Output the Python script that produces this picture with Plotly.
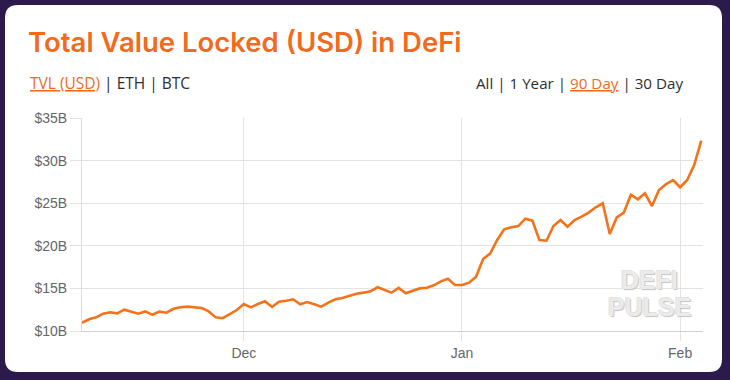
import pandas as pd
import plotly.graph_objects as go

# ---- data (daily TVL, billions USD) ----
start_date = "2020-11-08"
tvl_billion = [
    10.97, 11.37, 11.60, 12.03, 12.20, 12.07, 12.50, 12.27, 12.03, 12.30,
    11.90, 12.27, 12.15, 12.60, 12.78, 12.86, 12.78, 12.70, 12.30, 11.60,
    11.50, 12.00, 12.46, 13.17, 12.78, 13.17, 13.49, 12.82, 13.44, 13.56,
    13.72, 13.13, 13.40, 13.13, 12.86, 13.33, 13.72, 13.87, 14.10, 14.38,
    14.50, 14.66, 15.13, 14.81, 14.50, 15.05, 14.42, 14.73, 15.00, 15.08,
    15.36, 15.83, 16.14, 15.40, 15.40, 15.67, 16.37, 18.45, 19.08, 20.68,
    21.94, 22.17, 22.32, 23.18, 22.95, 20.68, 20.60, 22.32, 23.03, 22.24,
    23.03, 23.42, 23.90, 24.52, 24.99, 21.38, 23.34, 23.90, 26.00, 25.46,
    26.16, 24.67, 26.55, 27.25, 27.72, 26.87, 27.72, 29.48, 32.34,
]
dates = pd.date_range(start_date, periods=len(tvl_billion), freq="D")

y_ticks = [10, 15, 20, 25, 30, 35]
y_tick_labels = ["$10B", "$15B", "$20B", "$25B", "$30B", "$35B"]
x_ticks = ["2020-12-01", "2021-01-01", "2021-02-01"]
x_tick_labels = ["Dec", "Jan", "Feb"]

title_text = "Total Value Locked (USD) in DeFi"

# ---- layout geometry (pixels) ----
W, H = 730, 380
L, R, T, B = 82, 703, 118, 331
PW, PH = R - L, B - T

def px(x):
    return (x - L) / PW

def py(y):
    return (B - y) / PH

ORANGE = "#f26b1d"
LINE = "#f4731a"
GRID = "#e3e3e3"
TEXT_DARK = "#2e2e2e"

fig = go.Figure()
fig.add_trace(go.Scatter(
    x=dates, y=tvl_billion, mode="lines",
    line=dict(color=LINE, width=2.6, shape="linear"),
    hoverinfo="skip", showlegend=False,
))

# white rounded card
cx0, cx1, cy0, cy1 = 5, 722, 5, 372
r = 13
rx, ry = r / PW, r / PH
x0, x1, y0, y1 = px(cx0), px(cx1), py(cy1), py(cy0)
path = (
    f"M {x0+rx},{y0} L {x1-rx},{y0} Q {x1},{y0} {x1},{y0+ry} "
    f"L {x1},{y1-ry} Q {x1},{y1} {x1-rx},{y1} "
    f"L {x0+rx},{y1} Q {x0},{y1} {x0},{y1-ry} "
    f"L {x0},{y0+ry} Q {x0},{y0} {x0+rx},{y0} Z"
)
shapes = [dict(type="path", path=path, xref="paper", yref="paper",
               fillcolor="white", line=dict(width=0), layer="below")]

WM_FONT = dict(family="Liberation Sans", size=25, color="#ebebeb", weight=700,
               shadow="1px 1px 1px #c2c2c2, -1px -1px 0px #e2e2e2")

annotations = [
    dict(text=title_text, x=px(26), y=py(42), xref="paper", yref="paper",
         xanchor="left", yanchor="middle", showarrow=False,
         font=dict(family="Inter", size=27.5, color=ORANGE, weight=600)),
    dict(text=f"<span style='color:{ORANGE}'><u>TVL (USD)</u></span> | ETH | BTC",
         x=px(28), y=py(83), xref="paper", yref="paper",
         xanchor="left", yanchor="middle", showarrow=False,
         font=dict(family="Open Sans", size=15.5, color=TEXT_DARK)),
    dict(text=f"All | 1 Year | <span style='color:{ORANGE}'><u>90 Day</u></span> | 30 Day",
         x=px(685), y=py(83), xref="paper", yref="paper",
         xanchor="right", yanchor="middle", showarrow=False,
         font=dict(family="Open Sans", size=15.2, color=TEXT_DARK)),
    dict(text="DEFI", x=px(649), y=py(280), xref="paper", yref="paper",
         xanchor="center", yanchor="middle", showarrow=False, font=WM_FONT),
    dict(text="PULSE", x=px(649), y=py(307), xref="paper", yref="paper",
         xanchor="center", yanchor="middle", showarrow=False, font=WM_FONT),
]

fig.update_layout(
    width=W, height=H,
    margin=dict(l=L, r=W - R, t=T, b=H - B, pad=0),
    paper_bgcolor="#2c1a4c",
    plot_bgcolor="white",
    shapes=shapes,
    annotations=annotations,
    showlegend=False,
    xaxis=dict(
        range=["2020-11-08 00:00", "2021-02-04 06:00"],
        tickvals=x_ticks, ticktext=x_tick_labels,
        showgrid=True, gridcolor=GRID, gridwidth=1,
        showline=True, linecolor="#d2d2d2", linewidth=1, mirror=False,
        ticks="outside", ticklen=9, tickcolor=GRID, tickwidth=1,
        tickfont=dict(family="Liberation Sans", size=14, color="#666666"),
        zeroline=False, fixedrange=True,
    ),
    yaxis=dict(
        range=[10, 35],
        tickvals=y_ticks, ticktext=y_tick_labels,
        showgrid=True, gridcolor=GRID, gridwidth=1,
        showline=True, linecolor="#dcdcdc", linewidth=1,
        ticks="outside", ticklen=11, tickcolor=GRID, tickwidth=1,
        tickfont=dict(family="Liberation Sans", size=14, color="#666666"),
        zeroline=False, fixedrange=True,
    ),
)

fig.write_html(
    "out.html",
    config={"displayModeBar": False},
    post_script="document.body.style.margin='0';document.body.style.background='#2c1a4c';",
)
